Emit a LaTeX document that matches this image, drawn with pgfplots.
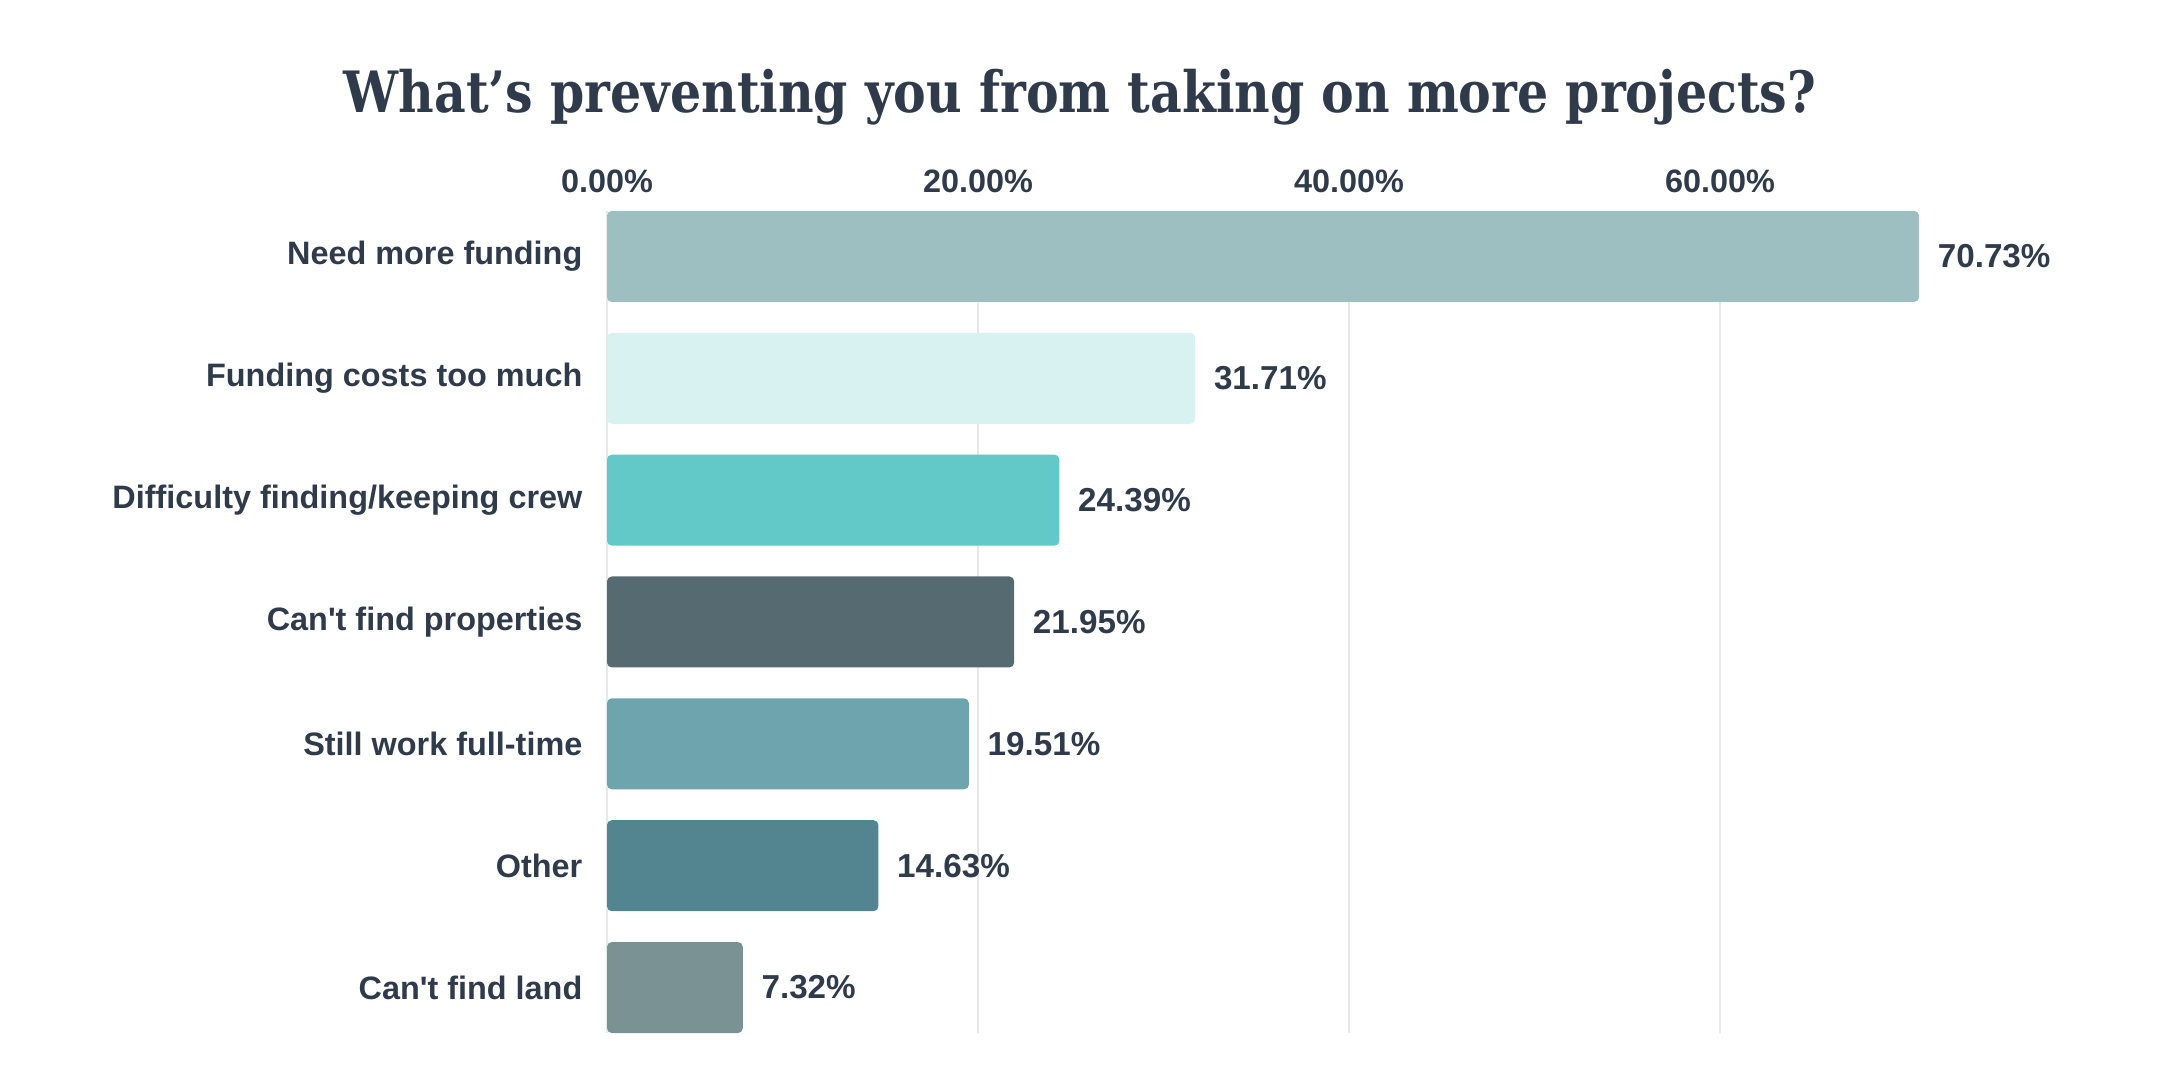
\documentclass[border=0pt]{standalone}
\usepackage{pgfplots}
\pgfplotsset{compat=1.18}
\usepackage{fontspec}
\setmainfont{Liberation Sans}
\newfontfamily\titlefont[FakeStretch=0.86]{DejaVu Serif}
\definecolor{txt}{HTML}{2F3B4A}
\definecolor{gridc}{HTML}{E8E8E8}
\definecolor{c1}{HTML}{9DBFC1}
\definecolor{c2}{HTML}{D8F1F1}
\definecolor{c3}{HTML}{63C9C8}
\definecolor{c4}{HTML}{566A72}
\definecolor{c5}{HTML}{6DA4AD}
\definecolor{c6}{HTML}{528590}
\definecolor{c7}{HTML}{7B9295}
\begin{document}
\begin{tikzpicture}
\useasboundingbox (0,0) rectangle (540pt,270pt);
\node[anchor=base, text=txt, font=\titlefont\bfseries\fontsize{14.25}{17}\selectfont, inner sep=0pt] at (270pt,241.75pt) {What’s preventing you from taking on more projects?};
\begin{axis}[
  at={(151.75pt,11.75pt)}, anchor=south west,
  scale only axis, width=333.9pt, height=205.5pt,
  xbar, bar width=22.75pt, bar shift=0pt,
  xmin=0, xmax=72, ymin=-0.373, ymax=6.373,
  xtick={0,20,40,60}, xticklabels={0.00\%,20.00\%,40.00\%,60.00\%},
  xticklabel pos=upper,
  xticklabel style={anchor=base, inner sep=0pt, yshift=4.5pt},
  ytick={0,...,6},
  yticklabels={Can\textquotesingle t find land, Other, Still work full-time, Can\textquotesingle t find properties, Difficulty finding/keeping crew, Funding costs too much, Need more funding},
  yticklabel style={anchor=east, inner sep=0pt, xshift=-1.7pt},
  tick label style={font=\bfseries\fontsize{8.1}{9.7}\selectfont, text=txt},
  axis line style={draw=none},
  tick style={draw=none},
  xmajorgrids, grid style={color=gridc, line width=0.5pt},
  point meta=x,
  nodes near coords={\pgfmathprintnumber[fixed, fixed zerofill, precision=2, assume math mode=true]{\pgfplotspointmeta}\%},
  nodes near coords align={horizontal},
  every node near coord/.append style={anchor=west, inner sep=0pt, xshift=4.5pt, font=\bfseries\fontsize{8.3}{10}\selectfont, text=txt},
  clip=false,
]
\addplot[fill=c1, draw=none, rounded corners=1.2pt] coordinates {(70.73,6)};
\addplot[fill=c2, draw=none, rounded corners=1.2pt] coordinates {(31.71,5)};
\addplot[fill=c3, draw=none, rounded corners=1.2pt] coordinates {(24.39,4)};
\addplot[fill=c4, draw=none, rounded corners=1.2pt] coordinates {(21.95,3)};
\addplot[fill=c5, draw=none, rounded corners=1.2pt] coordinates {(19.51,2)};
\addplot[fill=c6, draw=none, rounded corners=1.2pt] coordinates {(14.63,1)};
\addplot[fill=c7, draw=none, rounded corners=1.2pt] coordinates {(7.32,0)};
\end{axis}
\end{tikzpicture}
\end{document}
